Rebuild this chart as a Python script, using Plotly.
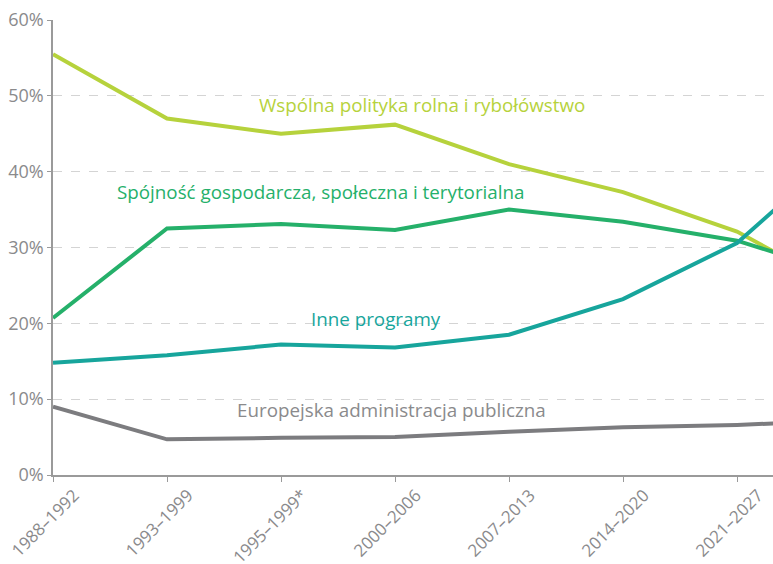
import plotly.graph_objects as go

# Budget periods (the last one lies just past the right edge of the plot)
periods = ["1988–1992", "1993–1999", "1995–1999*", "2000–2006",
           "2007–2013", "2014–2020", "2021–2027", "2028–2034"]

# Share of the EU budget, %
rolna = [55.5, 47.0, 45.0, 46.2, 41.0, 37.3, 32.1, 23.9]
spojnosc = [20.7, 32.5, 33.1, 32.3, 35.0, 33.4, 30.9, 26.2]
inne = [14.8, 15.8, 17.2, 16.8, 18.5, 23.2, 30.6, 43.9]
administracja = [9.0, 4.7, 4.9, 5.0, 5.7, 6.3, 6.6, 7.2]

y_ticks = [0, 10, 20, 30, 40, 50, 60]
y_tick_labels = ["0%", "10%", "20%", "30%", "40%", "50%", "60%"]

series = [
    ("Wspólna polityka rolna i rybołówstwo", rolna, "#b6d23c"),
    ("Spójność gospodarcza, społeczna i terytorialna", spojnosc, "#25b06a"),
    ("Inne programy", inne, "#17a59c"),
    ("Europejska administracja publiczna", administracja, "#7c7c7f"),
]
label_colors = {"#7c7c7f": "#8a8a8c"}

# Where each series name sits (period index, % value)
label_pos = {
    "Wspólna polityka rolna i rybołówstwo": (3.24, 48.8),
    "Spójność gospodarcza, społeczna i terytorialna": (2.35, 37.3),
    "Inne programy": (2.83, 20.6),
    "Europejska administracja publiczna": (2.97, 8.6),
}

FONT = "Open Sans"
x_idx = list(range(len(periods)))

fig = go.Figure()
for name, values, color in series:
    fig.add_trace(go.Scatter(
        x=x_idx, y=values, mode="lines", name=name,
        line=dict(color=color, width=4), hoverinfo="skip",
    ))

annotations = []
for name, values, color in series:
    ax, ay = label_pos[name]
    annotations.append(dict(
        x=ax, y=ay, xref="x", yref="y", text=name, showarrow=False,
        font=dict(family=FONT, size=18.8, color=label_colors.get(color, color)),
        xanchor="center", yanchor="middle",
    ))

fig.update_layout(
    width=773, height=564,
    margin=dict(l=53, r=0, t=20, b=89),
    paper_bgcolor="white", plot_bgcolor="white",
    showlegend=False,
    annotations=annotations,
    xaxis=dict(
        range=[0, 6 + 36 / 114], tickmode="array", tickvals=x_idx,
        ticktext=periods, tickangle=-45, automargin=False,
        showgrid=False, zeroline=False,
        showline=True, linecolor="#9a9a9a", linewidth=1.5,
        ticks="outside", ticklen=5, tickcolor="#9a9a9a",
        ticklabeloverflow="allow", ticklabelshift=21, ticklabelstandoff=-3,
        tickfont=dict(family=FONT, size=17, color="#8a8a8c"),
    ),
    yaxis=dict(
        range=[0, 60], tickmode="array", tickvals=y_ticks,
        ticktext=y_tick_labels, automargin=False,
        showgrid=True, gridcolor="#d4d4d4", griddash="dash", gridwidth=1,
        zeroline=False,
        showline=True, linecolor="#9a9a9a", linewidth=1.5,
        ticks="outside", ticklen=4, tickcolor="#9a9a9a",
        tickfont=dict(family=FONT, size=18, color="#8a8a8c"),
    ),
)

fig.write_html("out.html")
